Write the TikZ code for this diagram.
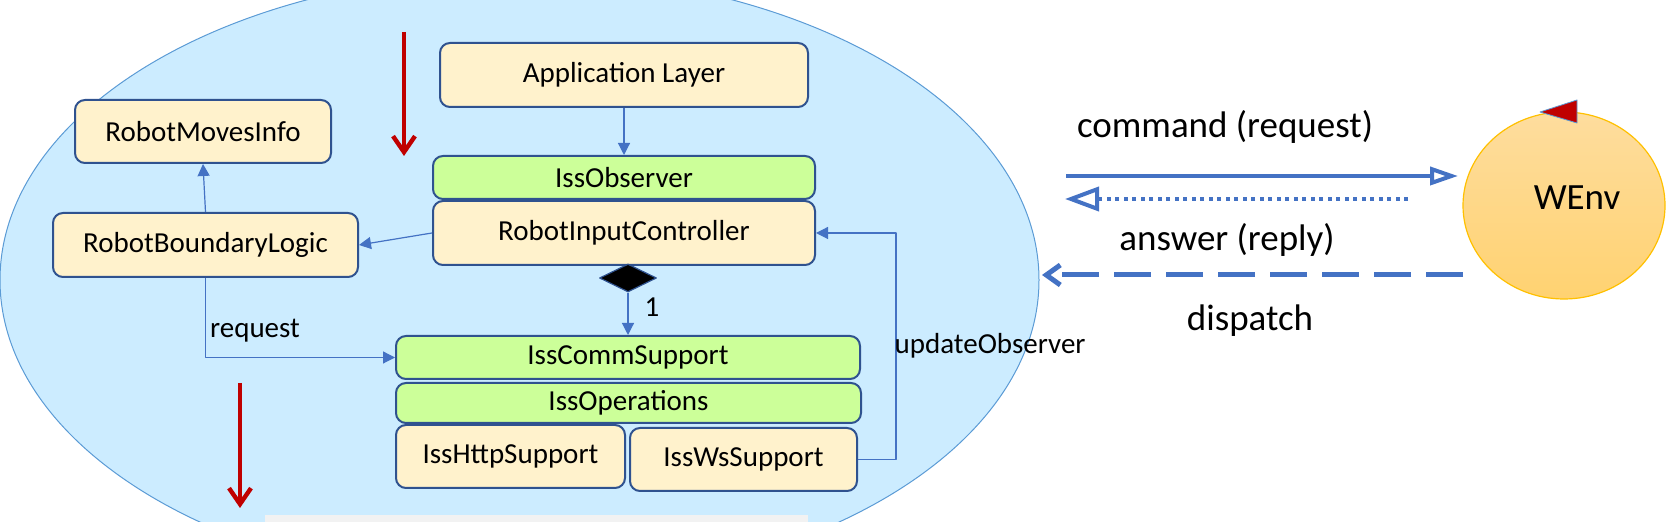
\documentclass[tikz,border=0pt]{standalone}
\usepackage{fontspec}
\setmainfont{Carlito}
\usetikzlibrary{arrows.meta,shapes.geometric,positioning}
\definecolor{wsInk}{HTML}{2F528F}
\definecolor{wsLink}{HTML}{4472C4}
\definecolor{wsSky}{HTML}{CCECFF}
\definecolor{wsRim}{HTML}{5B9BD5}
\definecolor{wsCream}{HTML}{FFF2CC}
\definecolor{wsLime}{HTML}{CCFF99}
\definecolor{wsRed}{HTML}{C00000}
\definecolor{wsGold}{HTML}{FFC000}
\definecolor{wsSunTop}{HTML}{FEDD9E}
\definecolor{wsSunBot}{HTML}{FFD271}
\definecolor{wsPaper}{HTML}{F2F2F2}
\tikzset{
 arch/.style={font=\fontsize{14.5}{16}\selectfont,line join=round},
 layer/.style={rectangle,rounded corners=5pt,draw=wsInk,fill=wsCream,line width=1pt,inner sep=0pt},
 port/.style={layer,fill=wsLime},
 owner/.style={diamond,draw=wsInk,fill=black,line width=.6pt,inner sep=0pt,minimum width=28.5pt,minimum height=14pt},
 link/.style={draw=wsLink,line width=.6pt,-{Triangle[length=6pt,width=6pt]}},
 tag/.style={inner sep=0pt},
 bigtag/.style={font=\fontsize{18.5}{21}\selectfont,inner sep=0pt},
 system/.style={ellipse,draw=wsRim,fill=wsSky,line width=.5pt,inner sep=0pt},
 world/.style={ellipse,draw=wsGold,line width=.6pt,top color=wsSunTop,bottom color=wsSunBot,inner sep=0pt},
 flowdown/.style={draw=wsRed,line width=2.2pt,-{Straight Barb[length=8pt,width=11pt]}},
 msgcmd/.style={draw=wsLink,line width=2pt,-{Triangle[open,length=14pt,width=9pt]}},
 msgans/.style={draw=wsLink,line width=2pt,dash pattern=on 2pt off 2.25pt,-{Triangle[open,length=17pt,width=12pt]}},
 msgevt/.style={draw=wsLink,line width=2.5pt,dash pattern=on 18.5pt off 7.5pt,-{Straight Barb[length=7pt,width=10pt]}}
}
\begin{document}
\begin{tikzpicture}[arch,x=.5pt,y=-.5pt]
 \useasboundingbox (0,0) rectangle (1677,522);
 \clip (0,0) rectangle (1677,522);
 \node[system,minimum width=519.5pt,minimum height=307pt] (sys) at (519.5,280) {};
 \fill[wsPaper] (265,515) rectangle (808,530);
 \node[layer,minimum width=184pt,minimum height=32pt] (app) at (624,75) {Application Layer};
 \node[port,minimum width=191pt,minimum height=21.5pt] (obs) at (624,177.5) {IssObserver};
 \node[layer,minimum width=191pt,minimum height=32pt] (ric) at (624,233) {RobotInputController};
 \node[layer,minimum width=128pt,minimum height=31.5pt] (moves) at (203,131.5) {RobotMovesInfo};
 \node[layer,minimum width=152.5pt,minimum height=32pt] (bound) at (205.5,245) {RobotBoundaryLogic};
 \node[owner] (own) at (628,278) {};
 \node[port,minimum width=232pt,minimum height=21.5pt] (comm) at (628,357.5) {IssCommSupport};
 \node[port,minimum width=232.5pt,minimum height=20pt] (ops) at (628.5,403) {IssOperations};
 \node[layer,minimum width=114.5pt,minimum height=31.5pt] (http) at (510.5,456.5) {IssHttpSupport};
 \node[layer,minimum width=113.5pt,minimum height=31.5pt] (wss) at (743.5,459.5) {IssWsSupport};
 \draw[link] (app) -- (obs);
 \draw[link] (bound.north) -- (moves.south);
 \draw[link] (ric.west) -- (bound.east);
 \draw[link] (own.south) -- node[tag,pos=.35,right=8pt] (one) {1} (comm.north);
 \draw[link] (bound.south) |- node[tag,pos=.33,right=2pt] (req) {request} (comm.west);
 \coordinate (bend) at (896,459.5);
 \draw[link] (wss.east) -- (bend) |- node[tag,pos=.25,anchor=west,xshift=-1pt] (upd) {updateObserver} (ric.east);
 \coordinate (downA) at (404,32);
 \coordinate (downB) at (240,383);
 \draw[flowdown] (downA) -- ++(0,124);
 \draw[flowdown] (downB) -- ++(0,125);
 \node[world,minimum width=101pt,minimum height=93.5pt] (env) at (1564,205.5) {};
 \node[bigtag] (envname) at (1577,198) {WEnv};
 \filldraw[fill=wsRed,draw=wsRim,line width=.4pt] (1540,112) -- (1577,100) -- (1577,123) -- cycle;
 \coordinate (cmdFrom) at (1066,176);
 \coordinate (cmdTo) at (1458,176);
 \coordinate (ansFrom) at (1408,199);
 \coordinate (ansTo) at (1065,199);
 \coordinate (evtFrom) at (1463,275);
 \coordinate (evtTo) at (1042,275);
 \draw[msgcmd] (cmdFrom) -- (cmdTo);
 \draw[msgans] (ansFrom) -- (ansTo);
 \draw[msgevt] (evtFrom) -- (evtTo);
 \node[bigtag] (cmdlbl) at (1225,127) {command (request)};
 \node[bigtag] (anslbl) at (1227,240) {answer (reply)};
 \node[bigtag] (evtlbl) at (1250,321) {dispatch};
\end{tikzpicture}
\end{document}
